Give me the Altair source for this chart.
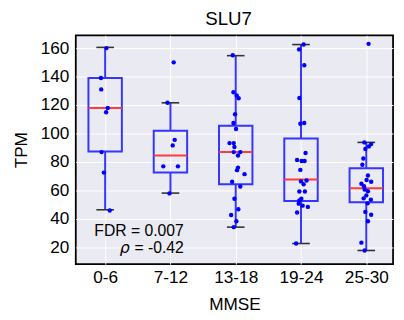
import json
import altair as alt
import pandas as pd

# ---- data ----
categories = ["0-6", "7-12", "13-18", "19-24", "25-30"]
q1 = [87.4, 72.6, 64.4, 52.6, 51.7]
median = [118.0, 84.6, 87.1, 67.8, 61.6]
q3 = [139.0, 102.0, 105.5, 96.6, 75.6]
whisker_low = [46.5, 58.2, 34.3, 22.8, 17.9]
whisker_high = [160.5, 121.6, 154.7, 162.5, 93.8]

vals_0_6 = [160, 139, 131, 118, 115, 87, 72.6, 46]
jit_0_6 = [0.02, -0.065, -0.06, 0.04, 0.015, -0.055, -0.02, 0.07]
vals_7_12 = [150, 121.6, 95.6, 91.7, 77, 77, 58]
jit_7_12 = [0.05, -0.045, 0.065, 0.035, -0.11, 0.115, -0.015]
vals_13_18 = [155, 129, 126.7, 124.8, 113.6, 107.4, 103.2, 93.3, 93.3, 90.6, 87, 87,
              84.6, 76.1, 74.3, 71.5, 66.2, 62.8, 54.2, 46.9, 42.8, 38.4, 34.3]
jit_13_18 = [-0.045, -0.035, 0.015, 0.045, -0.01, -0.035, 0.005, -0.095, -0.03, -0.02,
             -0.03, 0.07, 0.035, 0.035, 0.02, 0.135, -0.055, 0.07, -0.02, 0.04, -0.07,
             0.01, -0.03]
vals_19_24 = [162.5, 159.1, 148, 125, 107.4, 106.9, 86.4, 81.4, 80.7, 80.7, 74.5, 67,
              66.4, 64.4, 59.3, 59.3, 54.2, 53.1, 50.8, 49.4, 48.5, 44.6, 22.8]
jit_19_24 = [0.04, -0.03, 0.05, -0.025, 0.05, -0.01, 0.07, -0.06, 0.01, 0.055, -0.01,
             0.085, 0.0, 0.04, -0.025, 0.06, 0.005, -0.025, -0.035, 0.025, 0.105, -0.06,
             -0.075]
vals_25_30 = [163, 93.8, 92.6, 91, 89.2, 82.5, 78.1, 70.6, 67.4, 66.2, 64.8, 63, 60.7,
              59.5, 56.6, 54.5, 53.6, 51, 45, 43, 38.4, 23.4, 17.9]
jit_25_30 = [0.035, -0.03, 0.075, 0.04, -0.015, -0.045, -0.06, 0.025, 0.005, 0.075,
             -0.075, -0.035, -0.025, 0.025, 0.0, -0.04, 0.07, 0.02, -0.015, 0.075, 0.025,
             -0.075, -0.025]

fdr_text = "FDR = 0.007"
rho_symbol = "ρ"
rho_text = " = -0.42"
fdr_y = 28.3
rho_y = 15.9

# ---- tables ----
BOX_HALF = 0.256
CAP_HALF = 0.135
box_df = pd.DataFrame({
    "cat": categories,
    "pos": list(range(1, len(categories) + 1)),
    "q1": q1, "median": median, "q3": q3,
    "lo": whisker_low, "hi": whisker_high,
})
box_df["left"] = box_df["pos"] - BOX_HALF
box_df["right"] = box_df["pos"] + BOX_HALF
box_df["capl"] = box_df["pos"] - CAP_HALF
box_df["capr"] = box_df["pos"] + CAP_HALF

groups = [(vals_0_6, jit_0_6), (vals_7_12, jit_7_12), (vals_13_18, jit_13_18),
          (vals_19_24, jit_19_24), (vals_25_30, jit_25_30)]
rows = []
for i, (vs, js) in enumerate(groups):
    for v, j in zip(vs, js):
        rows.append({"cat": categories[i], "x": i + 1 + j, "value": v})
pts_df = pd.DataFrame(rows)

# ---- scales / axes ----
x_scale = alt.Scale(domain=[0.55, 5.41], nice=False, zero=False)
y_scale = alt.Scale(domain=[8.3, 169], nice=False, zero=False)
label_expr = json.dumps(categories) + "[datum.value - 1]"
x_axis = alt.Axis(values=list(range(1, 6)), labelExpr=label_expr, title="MMSE",
                  grid=True, labelPadding=5, titlePadding=10)
y_axis = alt.Axis(values=list(range(20, 161, 20)), title="TPM", grid=True,
                  labelPadding=7, titlePadding=10)

BLUE = "#3535ff"


def X(field):
    return alt.X(field, type="quantitative", scale=x_scale, axis=x_axis)


def Y(field):
    return alt.Y(field, type="quantitative", scale=y_scale, axis=y_axis)


base = alt.Chart(box_df)

whisk_low = base.mark_rule(color=BLUE, strokeWidth=2).encode(
    x=X("pos"), y=Y("lo"), y2="q1")
whisk_high = base.mark_rule(color=BLUE, strokeWidth=2).encode(
    x=X("pos"), y=Y("q3"), y2="hi")
boxes = base.mark_rect(fill=None, fillOpacity=0, stroke=BLUE, strokeWidth=2).encode(
    x=X("left"), x2="right", y=Y("q1"), y2="q3")
cap_low = base.mark_rule(color="#333333", strokeWidth=1.6).encode(
    x=X("capl"), x2="capr", y=Y("lo"))
cap_high = base.mark_rule(color="#333333", strokeWidth=1.6).encode(
    x=X("capl"), x2="capr", y=Y("hi"))
med = base.mark_rule(color="#ff3b3b", strokeWidth=2).encode(
    x=X("left"), x2="right", y=Y("median"))

points = alt.Chart(pts_df).mark_circle(color="#0000ff", size=20, opacity=1).encode(
    x=X("x"), y=Y("value"))

ann_df = pd.DataFrame({"t": [fdr_text, rho_text], "y": [fdr_y, rho_y]})
ann = alt.Chart(ann_df).mark_text(align="right", baseline="alphabetic", fontSize=16,
                                   font="Liberation Sans", color="black").encode(
    x=alt.value(110), y=Y("y"), text="t:N")
rho_df = pd.DataFrame({"t": [rho_symbol], "y": [rho_y]})
rho = alt.Chart(rho_df).mark_text(align="right", baseline="alphabetic", fontSize=16,
                                  fontStyle="italic", font="DejaVu Sans",
                                  color="black").encode(
    x=alt.value(55), y=Y("y"), text="t:N")

chart = alt.layer(whisk_low, whisk_high, boxes, med, cap_low, cap_high, points, ann, rho).properties(
    width=323, height=233,
    autosize=alt.AutoSizeParams(type="none"),
    padding={"left": 69, "top": 25, "right": 3, "bottom": 51},
    title=alt.Title("SLU7", offset=6, dx=-6),
).configure_view(
    fill="#EAEAF2", stroke="black", strokeWidth=1.8
).configure_axis(
    domain=False, ticks=False, gridColor="white", gridWidth=1,
    labelFont="Liberation Sans", labelFontSize=17.5, labelColor="black",
    titleFont="Liberation Sans", titleFontSize=17.5, titleFontWeight="normal",
    titleColor="black",
).configure_title(
    font="Liberation Sans", fontSize=19, fontWeight="normal", color="black"
)

chart.save("out.html", embed_options={"renderer": "svg", "actions": False})
